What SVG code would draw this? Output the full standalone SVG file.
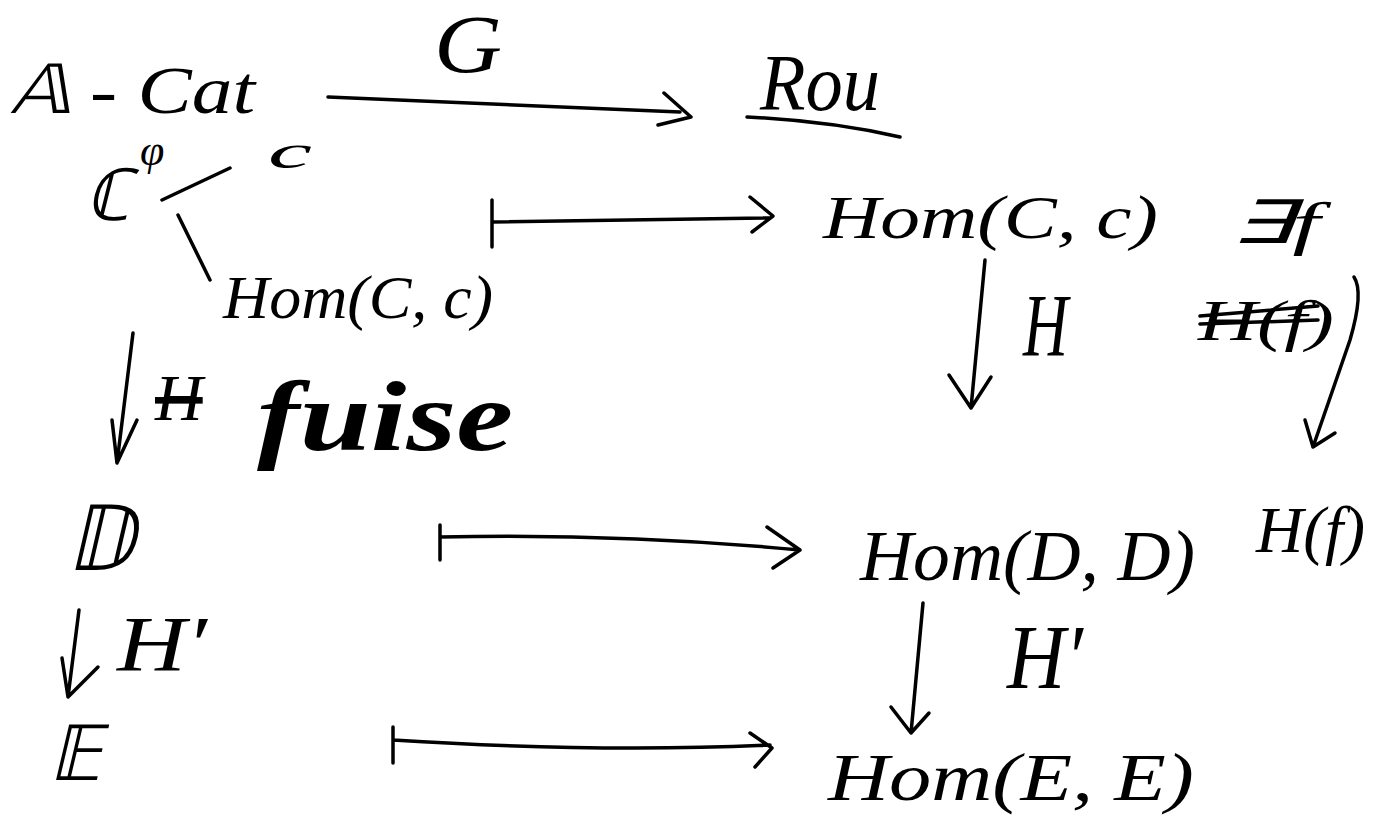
<svg xmlns="http://www.w3.org/2000/svg" width="1384" height="817" viewBox="0 0 1384 817">
<defs>
<style>
.t{font-family:"Liberation Serif",serif;font-style:italic;fill:#000}
.s{fill:none;stroke:#000;stroke-width:3.5;stroke-linecap:round;stroke-linejoin:round}
.b{font-family:"Liberation Serif",serif;font-weight:bold;font-style:italic;fill:#000}
</style>
</defs>
<rect width="1384" height="817" fill="#fff"/>
<g id="acat"><text class="t" x="10" y="113" font-size="68" textLength="245" lengthAdjust="spacingAndGlyphs">𝔸 - Cat</text></g>
<g id="rou"><text class="t" x="760" y="110" font-size="80" textLength="120" lengthAdjust="spacingAndGlyphs">Rou</text><path class="s" d="M747 117 Q830 121 900 137"/></g>
<g id="cphi"><text class="t" x="85" y="220" font-size="72">ℂ</text><text class="t" x="140" y="165" font-size="44">φ</text></g>
<g id="cobj"><text class="t" x="268" y="168" font-size="48" textLength="44" lengthAdjust="spacingAndGlyphs">c</text></g>
<g id="homL"><text class="t" x="223" y="318" font-size="62" textLength="270" lengthAdjust="spacingAndGlyphs">Hom(C, c)</text></g>
<g id="fuise"><text class="t" x="155" y="420" font-size="66" text-decoration="line-through">H</text><text class="b" x="257" y="450" font-size="100" textLength="256" lengthAdjust="spacingAndGlyphs">fuise</text></g>
<g id="homR"><text class="t" x="823" y="238" font-size="62" textLength="335" lengthAdjust="spacingAndGlyphs">Hom(C, c)</text></g>
<g id="exf"><text class="t" x="1230" y="243" font-size="60" textLength="90" lengthAdjust="spacingAndGlyphs">∃f</text></g>
<g id="hfs"><text class="t" x="1198" y="340" font-size="58" textLength="136" lengthAdjust="spacingAndGlyphs">H(f)</text><path class="s" d="M1200 316 L1318 306 M1200 324 L1318 320" stroke-width="3"/></g>
<g id="hf"><text class="t" x="1256" y="552" font-size="66" textLength="109" lengthAdjust="spacingAndGlyphs">H(f)</text></g>
<g id="D"><text class="t" x="66" y="570" font-size="90" textLength="68" lengthAdjust="spacingAndGlyphs">𝔻</text></g>
<g id="homD"><text class="t" x="860" y="580" font-size="72" textLength="335" lengthAdjust="spacingAndGlyphs">Hom(D, D)</text></g>
<g id="E"><text class="t" x="49" y="780" font-size="76" textLength="52" lengthAdjust="spacingAndGlyphs">𝔼</text></g>
<g id="homE"><text class="t" x="828" y="800" font-size="68" textLength="366" lengthAdjust="spacingAndGlyphs">Hom(E, E)</text></g>
<g id="connectors">
<path class="s" d="M328 97 L680 112 M664 93 L691 117 L658 125"/>
<text class="t" x="434" y="72" font-size="82" textLength="68" lengthAdjust="spacingAndGlyphs">G</text>
<path class="s" d="M162 200 L230 168 M178 215 L210 280"/>
<path class="s" d="M492 200 L492 247 M492 222 L770 218 M750 197 L773 216 L752 232"/>
<path class="s" d="M985 260 L971 408 M949 375 L971 408 L991 377"/>
<text class="t" x="1023" y="355" font-size="88" textLength="45" lengthAdjust="spacingAndGlyphs">H</text>
<path class="s" d="M1354 277 Q1364 292 1350 340 L1313 447 M1305 420 L1313 447 L1335 433"/>
<path class="s" d="M133 333 L117 463 M112 420 L117 463 L137 420"/>
<path class="s" d="M440 525 L440 560 M440 537 Q620 533 800 550 M767 527 L800 550 L773 568"/>
<path class="s" d="M79 610 L68 697 M62 658 L68 697 L98 667"/>
<text class="t" x="117" y="670" font-size="78" textLength="90" lengthAdjust="spacingAndGlyphs">H′</text>
<path class="s" d="M923 603 L911 733 M891 707 L911 733 L929 713"/>
<text class="t" x="1007" y="688" font-size="92" textLength="76" lengthAdjust="spacingAndGlyphs">H′</text>
<path class="s" d="M393 727 L393 763 M393 740 Q600 753 770 745 M750 733 L772 748 L755 767"/>
</g>
</svg>
